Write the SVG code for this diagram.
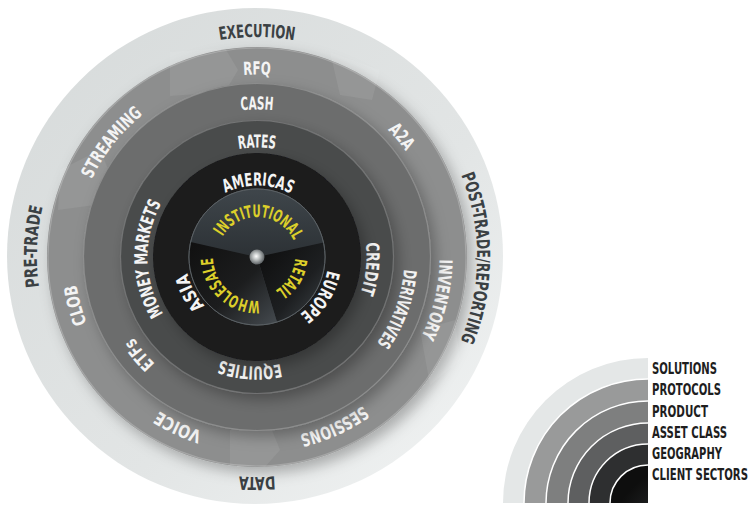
<svg xmlns="http://www.w3.org/2000/svg" width="755" height="513" viewBox="0 0 755 513">
<defs>
<style>
.t{font-family:"Liberation Sans Narrow","DejaVu Sans Condensed","Liberation Sans",sans-serif;font-weight:bold;font-size:18px;}
.w{fill:#f4f4f4;}
.d{fill:#3b4144;}
.y{fill:#dccf2a;font-size:17px;}
.lg{font-family:"Liberation Sans Narrow","DejaVu Sans Condensed","Liberation Sans",sans-serif;font-weight:bold;font-size:15px;fill:#1e1e1e;}
.sep{fill:none;stroke:#ffffff;stroke-opacity:0.22;stroke-width:1.2;}
</style>
<linearGradient id="gOuter" x1="0" y1="0" x2="1" y2="1">
<stop offset="0" stop-color="#d6dada"/>
<stop offset="0.6" stop-color="#e2e5e5"/>
<stop offset="1" stop-color="#f3f5f5"/>
</linearGradient>
<linearGradient id="gInst" x1="0" y1="0" x2="0" y2="1">
<stop offset="0" stop-color="#3f464b"/>
<stop offset="1" stop-color="#2c3135"/>
</linearGradient>
<linearGradient id="gRet" x1="0" y1="0" x2="1" y2="1">
<stop offset="0" stop-color="#0c0c0c"/>
<stop offset="0.6" stop-color="#1d1f21"/>
<stop offset="1" stop-color="#40464a"/>
</linearGradient>
<linearGradient id="gWho" x1="0" y1="0" x2="1" y2="1">
<stop offset="0" stop-color="#101010"/>
<stop offset="0.55" stop-color="#1c1d1e"/>
<stop offset="1" stop-color="#454b50"/>
</linearGradient>
<radialGradient id="gKnob" cx="0.45" cy="0.45" r="0.6">
<stop offset="0" stop-color="#ffffff"/>
<stop offset="0.35" stop-color="#c4c8c8"/>
<stop offset="1" stop-color="#4d5255"/>
</radialGradient>
<radialGradient id="gLegC" cx="1" cy="1" r="1">
<stop offset="0" stop-color="#3a3d3f"/>
<stop offset="1" stop-color="#0e0e0e"/>
</radialGradient>
<filter id="sh" x="-20%" y="-20%" width="140%" height="140%">
<feDropShadow dx="5" dy="6" stdDeviation="7" flood-color="#000" flood-opacity="0.28"/>
</filter>
<clipPath id="legClip"><rect x="490" y="340" width="158" height="163"/></clipPath>
<path id="p220" d="M257,37 A220,220 0 1 1 257,477 A220,220 0 1 1 257,37 A220,220 0 1 1 257,477 A220,220 0 1 1 257,37"/>
<path id="p182" d="M257,74.5 A182.5,182.5 0 1 1 257,439.5 A182.5,182.5 0 1 1 257,74.5 A182.5,182.5 0 1 1 257,439.5 A182.5,182.5 0 1 1 257,74.5"/>
<path id="p147" d="M257,109.5 A147.5,147.5 0 1 1 257,404.5 A147.5,147.5 0 1 1 257,109.5 A147.5,147.5 0 1 1 257,404.5 A147.5,147.5 0 1 1 257,109.5"/>
<path id="p109" d="M257,147.5 A109.5,109.5 0 1 1 257,366.5 A109.5,109.5 0 1 1 257,147.5 A109.5,109.5 0 1 1 257,366.5 A109.5,109.5 0 1 1 257,147.5"/>
<path id="p71" d="M257,185.5 A71.5,71.5 0 1 1 257,328.5 A71.5,71.5 0 1 1 257,185.5 A71.5,71.5 0 1 1 257,328.5 A71.5,71.5 0 1 1 257,185.5"/>
<path id="p40" d="M257,217 A40,40 0 1 1 257,297 A40,40 0 1 1 257,217 A40,40 0 1 1 257,297 A40,40 0 1 1 257,217"/>
<path id="p38" d="M257,219 A38,38 0 1 1 257,295 A38,38 0 1 1 257,219 A38,38 0 1 1 257,295 A38,38 0 1 1 257,219"/>
<path id="p44" d="M257,213 A44,44 0 1 1 257,301 A44,44 0 1 1 257,213 A44,44 0 1 1 257,301 A44,44 0 1 1 257,213"/>
</defs>

<rect width="755" height="513" fill="#ffffff"/>

<g id="solutions">
<circle cx="255" cy="256" r="248" fill="url(#gOuter)"/>
<text class="t d"><textPath href="#p220" startOffset="50%" text-anchor="middle" textLength="75" lengthAdjust="spacingAndGlyphs">EXECUTION</textPath></text>
<text class="t d"><textPath href="#p220" startOffset="62.54%" text-anchor="middle" textLength="170" lengthAdjust="spacingAndGlyphs">POST-TRADE/REPORTING</textPath></text>
<text class="t d"><textPath href="#p220" startOffset="25%" text-anchor="middle" textLength="36" lengthAdjust="spacingAndGlyphs">DATA</textPath></text>
<text class="t d"><textPath href="#p220" startOffset="37.875%" text-anchor="middle" textLength="81" lengthAdjust="spacingAndGlyphs">PRE-TRADE</textPath></text>
</g>

<g id="protocols">
<circle cx="257" cy="257" r="210" fill="#8d8e8e" filter="url(#sh)"/>
<g fill="#ffffff" fill-opacity="0.07">
<polygon points="170,52 225,48 238,70 225,92 170,96"/>
<polygon points="330,52 380,70 372,100 340,95"/>
<polygon points="60,170 100,150 112,178 95,205 58,210"/>
<polygon points="420,330 455,320 460,360 430,385"/>
<polygon points="230,430 270,425 280,450 265,467 230,465"/>
</g>
<circle class="sep" cx="257" cy="257" r="209"/>
<text class="t w"><textPath href="#p182" startOffset="50%" text-anchor="middle" textLength="27" lengthAdjust="spacingAndGlyphs">RFQ</textPath></text>
<text class="t w"><textPath href="#p182" startOffset="56.97%" text-anchor="middle" textLength="28" lengthAdjust="spacingAndGlyphs">A2A</textPath></text>
<text class="t w"><textPath href="#p182" startOffset="64.35%" text-anchor="middle" textLength="80" lengthAdjust="spacingAndGlyphs">INVENTORY</textPath></text>
<text class="t w"><textPath href="#p182" startOffset="71.6%" text-anchor="middle" textLength="70" lengthAdjust="spacingAndGlyphs">SESSIONS</textPath></text>
<text class="t w"><textPath href="#p182" startOffset="28.47%" text-anchor="middle" textLength="48" lengthAdjust="spacingAndGlyphs">VOICE</textPath></text>
<text class="t w"><textPath href="#p182" startOffset="35.42%" text-anchor="middle" textLength="40" lengthAdjust="spacingAndGlyphs">CLOB</textPath></text>
<text class="t w"><textPath href="#p182" startOffset="42.81%" text-anchor="middle" textLength="83" lengthAdjust="spacingAndGlyphs">STREAMING</textPath></text>
</g>

<g id="product">
<circle cx="257" cy="257" r="174" fill="#6c6d6d" filter="url(#sh)"/>
<circle class="sep" cx="257" cy="257" r="173.5"/>
<text class="t w"><textPath href="#p147" startOffset="50%" text-anchor="middle" textLength="32" lengthAdjust="spacingAndGlyphs">CASH</textPath></text>
<text class="t w"><textPath href="#p147" startOffset="65.32%" text-anchor="middle" textLength="80" lengthAdjust="spacingAndGlyphs">DERIVATIVES</textPath></text>
<text class="t w"><textPath href="#p147" startOffset="31.99%" text-anchor="middle" textLength="34" lengthAdjust="spacingAndGlyphs">ETFs</textPath></text>
</g>

<g id="asset-class">
<circle cx="257" cy="257" r="137" fill="#4a4b4c" filter="url(#sh)"/>
<circle class="sep" cx="257" cy="257" r="136.5"/>
<text class="t w"><textPath href="#p109" startOffset="50%" text-anchor="middle" textLength="37" lengthAdjust="spacingAndGlyphs">RATES</textPath></text>
<text class="t w"><textPath href="#p109" startOffset="63.33%" text-anchor="middle" textLength="51" lengthAdjust="spacingAndGlyphs">CREDIT</textPath></text>
<text class="t w"><textPath href="#p109" startOffset="25.49%" text-anchor="middle" textLength="61" lengthAdjust="spacingAndGlyphs">EQUITIES</textPath></text>
<text class="t w"><textPath href="#p109" startOffset="37.36%" text-anchor="middle" textLength="116" lengthAdjust="spacingAndGlyphs">MONEY MARKETS</textPath></text>
</g>

<g id="geography">
<circle cx="257" cy="257" r="104" fill="#1a1a1b" filter="url(#sh)"/>
<text class="t w"><textPath href="#p71" startOffset="50.14%" text-anchor="middle" textLength="68" lengthAdjust="spacingAndGlyphs">AMERICAS</textPath></text>
<text class="t w"><textPath href="#p71" startOffset="66.94%" text-anchor="middle" textLength="53" lengthAdjust="spacingAndGlyphs">EUROPE</textPath></text>
<text class="t w"><textPath href="#p71" startOffset="33.61%" text-anchor="middle" textLength="37" lengthAdjust="spacingAndGlyphs">ASIA</textPath></text>
</g>

<g id="client-sectors">
<circle cx="257" cy="257" r="68" fill="#34393d" stroke="#5a6064" stroke-width="1"/>
<path d="M257,257 L190.7,242.1 A68,68 0 0 1 323.4,242.4 Z" fill="url(#gInst)"/>
<path d="M257,257 L323.4,242.4 A68,68 0 0 1 277,322 Z" fill="url(#gRet)"/>
<path d="M257,257 L277,322 A68,68 0 0 1 190.7,242.1 Z" fill="url(#gWho)"/>
<circle cx="257" cy="257" r="68" fill="none" stroke="#5a6064" stroke-width="1"/>
<text class="t y"><textPath href="#p40" startOffset="50.42%" text-anchor="middle" textLength="87" lengthAdjust="spacingAndGlyphs">INSTITUTIONAL</textPath></text>
<text class="t y"><textPath href="#p38" startOffset="66.875%" text-anchor="middle" textLength="39" lengthAdjust="spacingAndGlyphs">RETAIL</textPath></text>
<text class="t y"><textPath href="#p44" startOffset="30.9%" text-anchor="middle" textLength="71" lengthAdjust="spacingAndGlyphs">WHOLESALE</textPath></text>
<circle cx="257" cy="257" r="7.5" fill="url(#gKnob)"/>
</g>

<g id="legend">
<g clip-path="url(#legClip)">
<circle cx="648" cy="503" r="145" fill="#e4e7e7"/>
<circle cx="648" cy="503" r="124" fill="#999a9a" stroke="#ffffff" stroke-width="1.5"/>
<circle cx="648" cy="503" r="102" fill="#7e7f7f" stroke="#ffffff" stroke-width="1.5"/>
<circle cx="648" cy="503" r="80" fill="#5e5f60" stroke="#ffffff" stroke-width="1.5"/>
<circle cx="648" cy="503" r="59" fill="#2e2f30" stroke="#ffffff" stroke-width="1.5"/>
<circle cx="648" cy="503" r="38" fill="url(#gLegC)" stroke="#ffffff" stroke-width="1.5"/>
</g>
<text class="lg" x="652" y="374" textLength="65" lengthAdjust="spacingAndGlyphs">SOLUTIONS</text>
<text class="lg" x="652" y="395" textLength="69" lengthAdjust="spacingAndGlyphs">PROTOCOLS</text>
<text class="lg" x="652" y="416.5" textLength="56" lengthAdjust="spacingAndGlyphs">PRODUCT</text>
<text class="lg" x="652" y="438" textLength="75" lengthAdjust="spacingAndGlyphs">ASSET CLASS</text>
<text class="lg" x="652" y="459" textLength="70" lengthAdjust="spacingAndGlyphs">GEOGRAPHY</text>
<text class="lg" x="652" y="480" textLength="96" lengthAdjust="spacingAndGlyphs">CLIENT SECTORS</text>
</g>
</svg>
